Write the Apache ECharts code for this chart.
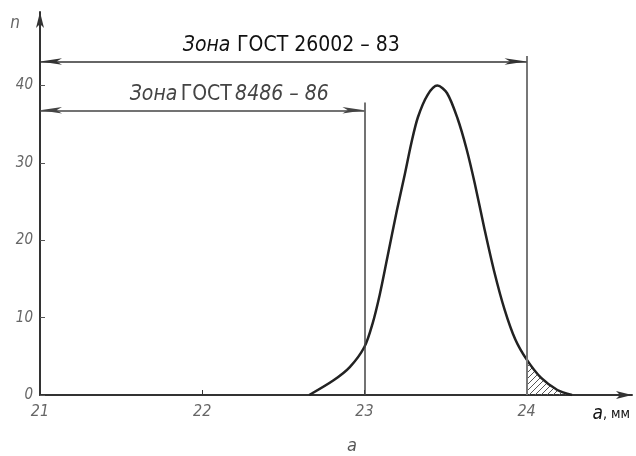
<!DOCTYPE html>
<html>
<head>
<meta charset="utf-8">
<script src="https://cdn.jsdelivr.net/npm/echarts@6/dist/echarts.min.js"></script>
<style>
	html, body { margin: 0; padding: 0; background: #fff; }
	#chart { width: 636px; height: 456px; }
</style>
</head>
<body>
<div id="chart"></div>
<script>
// значения кривой распределения
const sizeA = [22.66, 22.81, 22.91, 23.0, 23.05, 23.095, 23.14, 23.2, 23.25, 23.29, 23.33, 23.39, 23.45,
	23.51, 23.575, 23.63, 23.68, 23.74, 23.8, 23.865, 23.93, 24.0, 24.09, 24.19, 24.28];
const countN = [0, 1.9, 3.6, 6.2, 9.2, 13.0, 17.6, 23.8, 28.6, 32.6, 35.9, 38.8, 40.0,
	39.0, 35.7, 31.8, 27.4, 21.5, 16.0, 11.0, 7.2, 4.6, 2.2, 0.65, 0];

// заштрихованный хвост за границей 24 мм
const tailA = [24.0, 24.09, 24.19, 24.28];
const tailN = [4.6, 2.2, 0.65, 0];

// границы зон
const zone26002 = { from: 21, to: 24, level: 43.1, lineTop: 43.8 };
const zone8486 = { from: 21, to: 23, level: 36.8, lineTop: 37.8 };

const xTicks = [21, 22, 23, 24];
const yTicks = [0, 10, 20, 30, 40];

const font = "'DejaVu Sans Condensed', 'DejaVu Sans', sans-serif";

// штриховка
const hatch = document.createElement('canvas');
hatch.width = 6;
hatch.height = 6;
const hctx = hatch.getContext('2d');
hctx.strokeStyle = '#555';
hctx.lineWidth = 1;
hctx.beginPath();
hctx.moveTo(0, 6); hctx.lineTo(6, 0);
hctx.moveTo(-3, 3); hctx.lineTo(3, -3);
hctx.moveTo(3, 9); hctx.lineTo(9, 3);
hctx.stroke();

const pair = (a, b) => a.map((v, i) => [v, b[i]]);

const zoneRich = {
	i: { fontFamily: font, fontStyle: 'italic', fontSize: 21 },
	u: { fontFamily: font, fontSize: 21 }
};

let myChart = echarts.init(document.getElementById('chart'));
myChart.setOption({
	animation: false,
	grid: { left: 40, right: 4, top: 12, bottom: 61 },
	title: {
		text: 'а',
		left: 342,
		top: 432,
		textStyle: { fontFamily: font, fontStyle: 'italic', fontWeight: 'normal', fontSize: 18, color: '#555' }
	},
	xAxis: {
		type: 'value',
		min: 21,
		max: 24.65,
		splitLine: { show: false },
		axisLine: {
			lineStyle: { color: '#333', width: 2 },
			symbol: ['none', 'arrow'],
			symbolSize: [6, 16]
		},
		axisTick: { inside: true, length: 5, customValues: xTicks, lineStyle: { color: '#333' } },
		axisLabel: {
			customValues: xTicks,
			margin: 9,
			fontFamily: font,
			fontStyle: 'italic',
			fontSize: 16,
			color: v => (v === 24 ? '#111' : '#666')
		},
		name: '{i|а}, мм',
		nameLocation: 'end',
		nameGap: 0,
		nameTextStyle: {
			align: 'right',
			verticalAlign: 'top',
			padding: [10, 2, 0, 0],
			fontFamily: font,
			fontSize: 14,
			color: '#111',
			rich: { i: { fontFamily: font, fontStyle: 'italic', fontSize: 19, color: '#111' } }
		}
	},
	yAxis: {
		type: 'value',
		min: 0,
		max: 49.5,
		splitLine: { show: false },
		axisLine: {
			lineStyle: { color: '#333', width: 2 },
			symbol: ['none', 'arrow'],
			symbolSize: [6, 16]
		},
		axisTick: { inside: true, length: 5, customValues: yTicks, lineStyle: { color: '#555' } },
		axisLabel: {
			customValues: yTicks,
			margin: 7,
			fontFamily: font,
			fontStyle: 'italic',
			fontSize: 15,
			color: '#666'
		},
		name: 'n',
		nameLocation: 'end',
		nameGap: -20,
		nameTextStyle: {
			align: 'right',
			padding: [0, 20, 0, 0],
			fontFamily: font,
			fontStyle: 'italic',
			fontSize: 17,
			color: '#666'
		}
	},
	series: [
		{
			// штриховка хвоста
			type: 'line',
			data: pair(tailA, tailN),
			smooth: 0.3,
			showSymbol: false,
			lineStyle: { width: 0 },
			areaStyle: { color: { image: hatch, repeat: 'repeat' }, opacity: 1 },
			silent: true,
			z: 1
		},
		{
			type: 'line',
			data: pair(sizeA, countN),
			smooth: 0.3,
			showSymbol: false,
			lineStyle: { color: '#222', width: 2.5 },
			z: 3,
			markLine: {
				silent: true,
				symbol: ['none', 'none'],
				lineStyle: { type: 'solid', color: '#444', width: 1.5 },
				label: { show: false },
				data: [
					[{ coord: [zone8486.to, 0] }, { coord: [zone8486.to, zone8486.lineTop] }],
					[{ coord: [zone26002.to, 0], lineStyle: { color: '#777', width: 2 } },
						{ coord: [zone26002.to, zone26002.lineTop] }],
					[
						{
							coord: [zone26002.from, zone26002.level],
							symbol: 'arrow',
							symbolSize: [5, 22],
							lineStyle: { color: '#333', width: 1.5 },
							label: {
								show: true,
								position: 'middle',
								distance: 5,
								offset: [8, 0],
								color: '#111',
								formatter: '{i|Зона}  {u|ГОСТ 26002 – 83}',
								rich: zoneRich
							}
						},
						{ coord: [zone26002.to, zone26002.level], symbol: 'arrow', symbolSize: [5, 22] }
					],
					[
						{
							coord: [zone8486.from, zone8486.level],
							symbol: 'arrow',
							symbolSize: [5, 22],
							lineStyle: { color: '#444', width: 1.5 },
							label: {
								show: true,
								position: 'middle',
								distance: 5,
								offset: [27, 0],
								color: '#444',
								formatter: '{i|Зона} {u|ГОСТ} {i|8486 – 86}',
								rich: zoneRich
							}
						},
						{ coord: [zone8486.to, zone8486.level], symbol: 'arrow', symbolSize: [5, 22] }
					]
				]
			}
		}
	]
});
</script>
</body>
</html>
